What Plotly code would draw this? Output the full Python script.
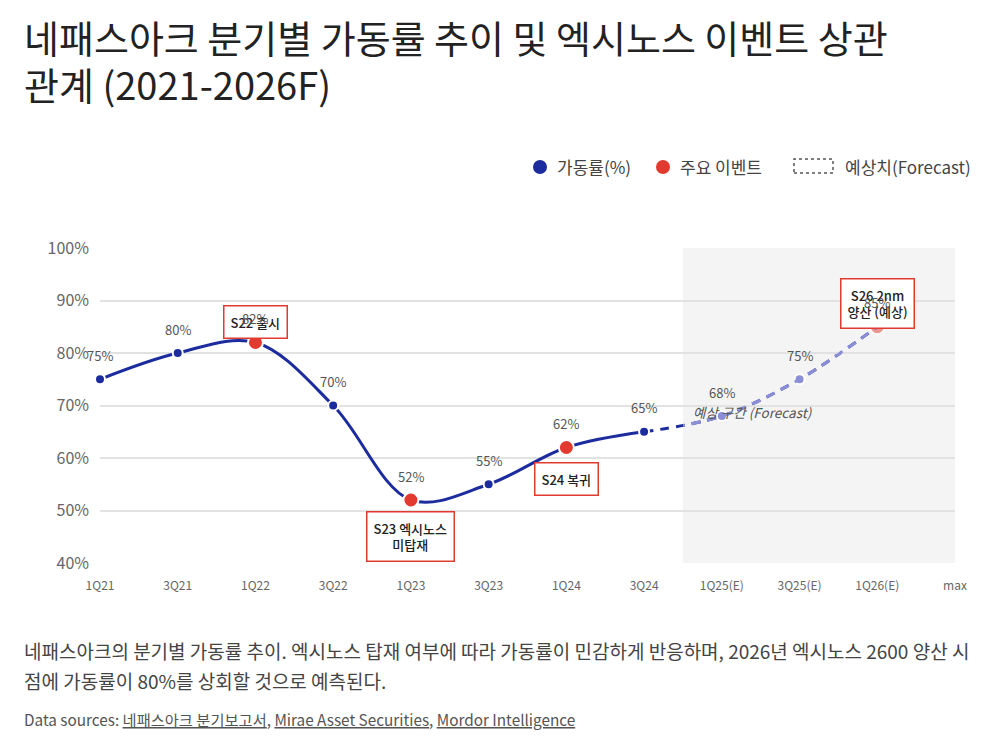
import plotly.graph_objects as go

# ---------------- data ----------------
quarters = ["1Q21", "3Q21", "1Q22", "3Q22", "1Q23", "3Q23", "1Q24", "3Q24",
            "1Q25(E)", "3Q25(E)", "1Q26(E)", "max"]
utilization = [75, 80, 82, 70, 52, 55, 62, 65, 68, 75, 85]
forecast_start = 8          # first forecast quarter index (1Q25(E))
event_idx = [2, 4, 6, 10]
event_text = ["S22 출시", "S23 엑시노스<br>미탑재", "S24 복귀", "S26 2nm<br>양산 (예상)"]
y_ticks = [40, 50, 60, 70, 80, 90, 100]
title_lines = ["네패스아크 분기별 가동률 추이 및 엑시노스 이벤트 상관", "관계 (2021-2026F)"]

# ---------------- styles ----------------
DARK = "#1c2c9e"
LAV = "#8a8fd6"
RED = "#e33a2f"
FONT = "Noto Sans CJK KR"
event_shift = [21, -36, -31, 23]

L, R, T, B = 100, 45, 248, 187
W, H = 1000, 750
PW, PH = W - L - R, H - T - B


def px(x):
    return (x - L) / PW


def py(y):
    return (H - B - y) / PH


n = len(utilization)
xs = list(range(n))
hist_x = xs[:forecast_start]
hist_y = utilization[:forecast_start]
fc_x = xs[forecast_start - 1:]
fc_y = utilization[forecast_start - 1:]
boundary = forecast_start - 0.5
xmax = len(quarters) - 1

fig = go.Figure()

# historical solid line
fig.add_trace(go.Scatter(x=hist_x, y=hist_y, mode="lines",
                         line=dict(color=DARK, width=3, shape="spline", smoothing=1.0),
                         hoverinfo="skip", showlegend=False))
# forecast dashed line (dark part)
fig.add_trace(go.Scatter(x=fc_x, y=fc_y, mode="lines",
                         line=dict(color=DARK, width=3, shape="spline", smoothing=1.0, dash="9px,7px"),
                         hoverinfo="skip", showlegend=False))
# forecast dashed line (light part, clipped to forecast region via x2)
fig.add_trace(go.Scatter(x=fc_x, y=fc_y, mode="lines", xaxis="x2", yaxis="y",
                         line=dict(color=LAV, width=3, shape="spline", smoothing=1.0, dash="9px,7px"),
                         hoverinfo="skip", showlegend=False))

# markers
norm_hist = [i for i in range(forecast_start) if i not in event_idx]
ev_hist = [i for i in event_idx if i < forecast_start]
norm_fc = [i for i in range(forecast_start, n) if i not in event_idx]
ev_fc = [i for i in event_idx if i >= forecast_start]

fig.add_trace(go.Scatter(x=norm_hist, y=[utilization[i] for i in norm_hist], mode="markers",
                         marker=dict(color=DARK, size=10, line=dict(color="white", width=2)),
                         cliponaxis=False, hoverinfo="skip", showlegend=False))
fig.add_trace(go.Scatter(x=norm_fc, y=[utilization[i] for i in norm_fc], mode="markers",
                         marker=dict(color=LAV, size=10, line=dict(color="white", width=2)),
                         cliponaxis=False, hoverinfo="skip", showlegend=False))
fig.add_trace(go.Scatter(x=ev_hist, y=[utilization[i] for i in ev_hist], mode="markers",
                         marker=dict(color=RED, size=15, line=dict(color="white", width=2)),
                         cliponaxis=False, hoverinfo="skip", showlegend=False))
fig.add_trace(go.Scatter(x=ev_fc, y=[utilization[i] for i in ev_fc], mode="markers",
                         marker=dict(color=RED, size=15, opacity=0.5, line=dict(color="white", width=2)),
                         cliponaxis=False, hoverinfo="skip", showlegend=False))

annotations = []

# event boxes
for i, txt, sh in zip(event_idx, event_text, event_shift):
    annotations.append(dict(x=i, y=utilization[i], xref="x", yref="y", text=txt,
                            showarrow=False, yshift=sh, align="center",
                            font=dict(family=FONT, size=13, color="#222", weight=500),
                            bgcolor="white", bordercolor=RED, borderwidth=1.5, borderpad=6))

# value labels
for i, v in enumerate(utilization):
    annotations.append(dict(x=i, y=v, xref="x", yref="y", text=f"{v}%", showarrow=False,
                            yshift=24, font=dict(family=FONT, size=13, color="#555")))

# forecast region label
annotations.append(dict(x=8.4, y=68.8, xref="x", yref="y", text="<i>예상 구간 (Forecast)</i>",
                        showarrow=False, font=dict(family=FONT, size=13.5, color="#555")))

# title (two lines)
for line, cy in zip(title_lines, [37, 83]):
    annotations.append(dict(x=px(22), y=py(cy), xref="paper", yref="paper", xanchor="left",
                            yanchor="middle", align="left", showarrow=False, text=line,
                            font=dict(family=FONT, size=38, color="#222")))

# legend
legend_items = [(540, DARK, "가동률(%)"), (663, RED, "주요 이벤트")]
shapes = []
for cx, col, txt in legend_items:
    shapes.append(dict(type="circle", xref="paper", yref="paper",
                       x0=px(cx - 7), x1=px(cx + 7), y0=py(174), y1=py(160),
                       fillcolor=col, line=dict(width=0)))
    annotations.append(dict(x=px(cx + 15), y=py(166), xref="paper", yref="paper", xanchor="left",
                            yanchor="middle", showarrow=False, text=txt,
                            font=dict(family=FONT, size=17, color="#444")))
shapes.append(dict(type="rect", xref="paper", yref="paper", x0=px(794), x1=px(833),
                   y0=py(173), y1=py(159), line=dict(color="#555", width=1.5, dash="3px,3px"),
                   fillcolor="rgba(0,0,0,0)"))
annotations.append(dict(x=px(843), y=py(166), xref="paper", yref="paper", xanchor="left",
                        yanchor="middle", showarrow=False, text="예상치(Forecast)",
                        font=dict(family=FONT, size=17, color="#444")))

# forecast shaded region
shapes.append(dict(type="rect", xref="x", yref="paper", x0=boundary, x1=xmax, y0=0, y1=1,
                   fillcolor="#f4f4f4", line=dict(width=0), layer="below"))

# caption
annotations.append(dict(x=px(22), y=py(650), xref="paper", yref="paper", xanchor="left", yanchor="middle",
                        showarrow=False, align="left",
                        text="네패스아크의 분기별 가동률 추이. 엑시노스 탑재 여부에 따라 가동률이 민감하게 반응하며, 2026년 엑시노스 2600 양산 시",
                        font=dict(family=FONT, size=19, color="#444")))
annotations.append(dict(x=px(22), y=py(680), xref="paper", yref="paper", xanchor="left", yanchor="middle",
                        showarrow=False, align="left",
                        text="점에 가동률이 80%를 상회할 것으로 예측된다.",
                        font=dict(family=FONT, size=19, color="#444")))
annotations.append(dict(x=px(22), y=py(719), xref="paper", yref="paper", xanchor="left", yanchor="middle",
                        showarrow=False, align="left",
                        text="Data sources: <u>네패스아크 분기보고서</u>, <u>Mirae Asset Securities</u>, <u>Mordor Intelligence</u>",
                        font=dict(family=FONT, size=15.3, color="#555")))

fig.update_layout(
    width=W, height=H,
    margin=dict(l=L, r=R, t=T, b=B),
    paper_bgcolor="white", plot_bgcolor="rgba(0,0,0,0)",
    showlegend=False,
    xaxis=dict(range=[0, xmax], tickmode="array", tickvals=list(range(len(quarters))), ticktext=quarters,
               showgrid=False, zeroline=False, showline=False, ticks="",
               tickfont=dict(family=FONT, size=12, color="#666"), ticklabelstandoff=14, fixedrange=True),
    xaxis2=dict(domain=[boundary / xmax, 1], range=[boundary, xmax], anchor="y", visible=False,
                showgrid=False, zeroline=False, fixedrange=True),
    yaxis=dict(range=[40, 100], tickmode="array", tickvals=y_ticks, ticktext=[f"{t}%" for t in y_ticks],
               showgrid=True, gridcolor="#e2e2e2", gridwidth=1.5, zeroline=False, showline=False, ticks="",
               tickfont=dict(family=FONT, size=16, color="#666"), ticklabelstandoff=10, fixedrange=True),
    annotations=annotations,
    shapes=shapes,
)

fig.write_html("out.html")
